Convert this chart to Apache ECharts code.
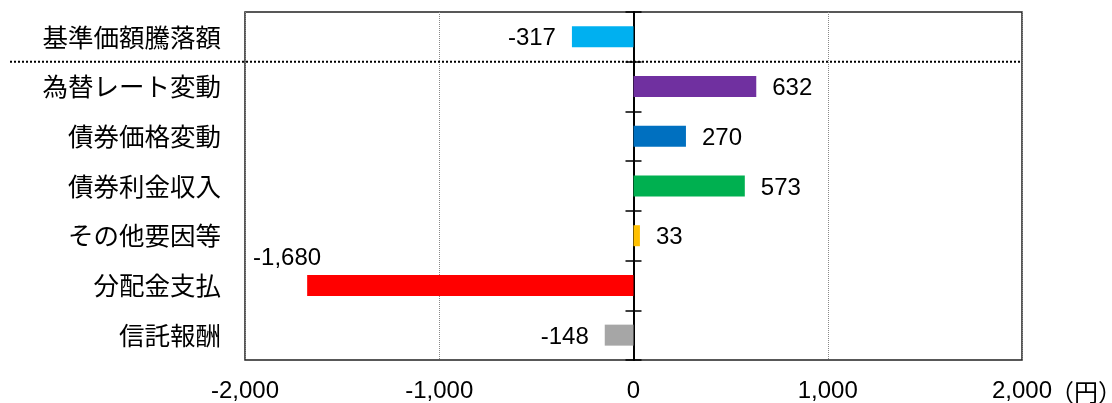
<!DOCTYPE html>
<html>
<head>
<meta charset="utf-8">
<script src="https://cdn.jsdelivr.net/npm/echarts@6/dist/echarts.min.js"></script>
<style>
html,body{margin:0;padding:0;background:#fff;}
#main{width:1112px;height:403px;}
</style>
</head>
<body>
<div id="main"></div>
<script>
const categories = ['基準価額騰落額','為替レート変動','債券価格変動','債券利金収入','その他要因等','分配金支払','信託報酬'];
const values = [-317, 632, 270, 573, 33, -1680, -148];
const barColors = ['#00B0F0','#7030A0','#0070C0','#00B050','#FFC000','#FF0000','#A6A6A6'];
const xTicks = [-2000, -1000, 0, 1000, 2000];
const unitLabel = '（円）';

const FONT = "'Liberation Sans', Arial, 'Noto Sans CJK JP', sans-serif";
const GRID = {left: 245, right: 90, top: 12, bottom: 43};
const W = 1112, H = 403;
const plotH = H - GRID.top - GRID.bottom;

function fmt(v){ return v.toLocaleString('en-US'); }

const chart = echarts.init(document.getElementById('main'), null, {renderer:'canvas'});

const data = values.map((v, i) => {
  const item = {value: v, itemStyle: {color: barColors[i]}};
  if (v < 0) item.label = {position: 'left'};
  if (v === -1680) item.label = {position: 'left', offset: [30, -27]};
  return item;
});

chart.setOption({
  animation: false,
  grid: {left: GRID.left, right: GRID.right, top: GRID.top, bottom: GRID.bottom, containLabel: false,
         show: true, borderColor: '#222', borderWidth: 1.5, backgroundColor: 'transparent'},
  xAxis: {
    type: 'value', min: xTicks[0], max: xTicks[xTicks.length-1], interval: 1000,
    axisLine: {show: false}, axisTick: {show: false},
    splitLine: {show: true, lineStyle: {color: '#888', type: 'dotted', width: 1}},
    axisLabel: {fontSize: 24, color: '#000', fontFamily: FONT, margin: 19, formatter: fmt}
  },
  yAxis: [
    {type: 'category', data: categories, inverse: true, position: 'left',
     axisLine: {show: false, onZero: false}, axisTick: {show: false}, splitLine: {show: false},
     axisLabel: {fontSize: 25.5, color: '#000', margin: 24, fontFamily: "'Noto Sans CJK JP', sans-serif"}},
    {type: 'category', data: categories, inverse: true, position: 'left',
     axisLine: {show: true, onZero: true, onZeroAxisIndex: 0, lineStyle: {color: '#000', width: 2}},
     axisTick: {show: true, length: 8, lineStyle: {color: '#000', width: 1.5}},
     axisLabel: {show: false}, splitLine: {show: false}},
    {type: 'category', data: categories, inverse: true, position: 'right',
     axisLine: {show: false, onZero: true, onZeroAxisIndex: 0},
     axisTick: {show: true, length: 8, lineStyle: {color: '#000', width: 1.5}},
     axisLabel: {show: false}, splitLine: {show: false}}
  ],
  series: [{
    type: 'bar', yAxisIndex: 0, barWidth: 21,
    data: data,
    label: {
      show: true, fontSize: 24, color: '#000', fontFamily: FONT, distance: 16,
      position: 'right', offset: [0, 2],
      formatter: p => fmt(p.value)
    }
  }],
  graphic: [
    {type: 'line', z: 100, shape: {x1: 10, y1: GRID.top + plotH / categories.length, x2: W - GRID.right, y2: GRID.top + plotH / categories.length},
     style: {stroke: '#000', lineWidth: 2, lineDash: [2, 2]}},
    {type: 'text', left: W - GRID.right + 28, top: H - GRID.bottom + 20,
     style: {text: unitLabel, fontSize: 24, fill: '#000', fontFamily: "'Noto Sans CJK JP', sans-serif"}}
  ]
});
</script>
</body>
</html>
